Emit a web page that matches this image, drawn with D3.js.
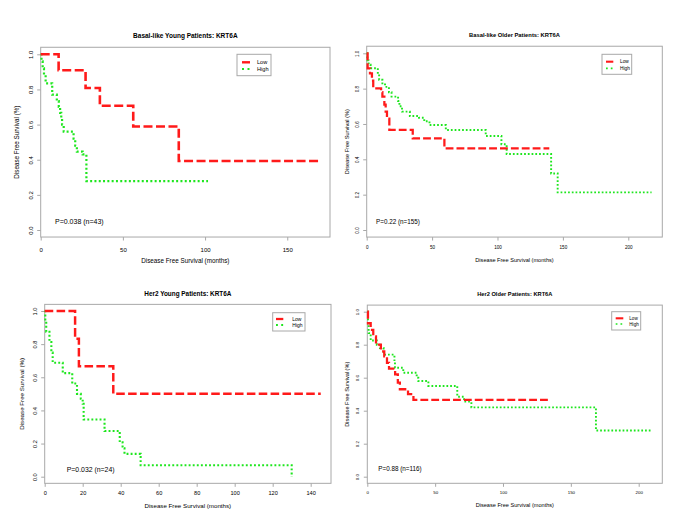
<!DOCTYPE html>
<html><head><meta charset="utf-8">
<script src="https://cdn.jsdelivr.net/npm/d3@7"></script>
<style>body{margin:0;background:#fff}svg{display:block}text{font-family:"Liberation Sans",Arial,sans-serif;fill:#000}</style>
</head><body>
<svg id="c" width="700" height="525"></svg>
<script>
// ---- data ----
const titles = ["Basal-like Young Patients: KRT6A","Basal-like Older Patients: KRT6A","Her2 Young Patients: KRT6A","Her2 Older Patients: KRT6A"];
const pTexts = ["P=0.038 (n=43)","P=0.22 (n=155)","P=0.032 (n=24)","P=0.88 (n=116)"];
const seriesNames = ["Low","High"];
const xTicks1 = [0,50,100,150];
const xTicks2 = [0,50,100,150,200];
const xTicks3 = [0,20,40,60,80,100,120,140];
const xTicks4 = [0,50,100,150,200];
const yTicks = [0,0.2,0.4,0.6,0.8,1.0];
const xLabel = "Disease Free Survival (months)";
const yLabel = "Disease Free Survival (%)";

const p1LowT  = [0,10.9,27.3,36,56.3,84,170];
const p1LowS  = [1,0.909,0.808,0.707,0.589,0.393,0.393];
const p1HighT = [0,0.5,1.2,2.0,3.0,7.0,9.8,11,11.8,12.5,13,14,20,21,22,25.5,27.8,101.8];
const p1HighS = [1,0.96,0.92,0.875,0.835,0.77,0.733,0.70,0.667,0.633,0.60,0.56,0.52,0.48,0.446,0.43,0.278,0.278];

const p2LowT  = [0,0.7,2.5,4,5,11,12,13.5,14.5,15.5,17.3,35.2,59.4,139.6];
const p2LowS  = [1,0.915,0.887,0.845,0.802,0.78,0.755,0.71,0.67,0.63,0.566,0.519,0.462,0.462];
const p2HighT = [0,0.5,1.5,3,8.5,9.5,12,14,17,19,24,25,27,33,40,44,48,60.5,91,103,107,141,146,217.8];
const p2HighS = [1,0.96,0.935,0.915,0.88,0.85,0.83,0.81,0.78,0.755,0.73,0.70,0.67,0.645,0.635,0.615,0.594,0.566,0.532,0.485,0.43,0.32,0.213,0.213];

const p3LowT  = [0,16,18,36.1,145.3];
const p3LowS  = [1,0.833,0.667,0.5,0.5];
const p3HighT = [0,0.3,0.8,2.5,3.5,4.2,9.5,14.5,17,19,20,20.5,31.5,39.5,41,42,50.5,130];
const p3HighS = [1,0.9375,0.875,0.8125,0.75,0.6875,0.625,0.5625,0.5,0.47,0.44,0.345,0.276,0.207,0.172,0.138,0.069,0];

const p4LowT  = [0,0.5,2.5,4.4,6.4,10,12.5,14.5,16,20.5,22.5,24,30,34,134.6];
const p4LowS  = [1,0.93,0.89,0.85,0.80,0.76,0.73,0.69,0.655,0.62,0.57,0.53,0.50,0.465,0.465];
const p4HighT = [0,0.5,1,2.5,7,9.3,12,13,20,20.4,26.5,36.4,37.6,45,66.3,71.3,76.7,168.5,209.6];
const p4HighS = [1,0.93,0.87,0.825,0.80,0.78,0.755,0.74,0.70,0.66,0.63,0.60,0.58,0.55,0.485,0.455,0.42,0.28,0.28];

// ---- layout (positions / styles) ----
const layout = [
  {left:40.7,right:330,xmax:176,y1:54.3,y0:230,titleY:37.5,titleFs:6.5,lblFs:6.3,tickFs:6,tickX:33,xtY:252,xlY:262.5,ylX:18.7,pX:55,pY:224.2,pFs:7,
   leg:{x0:237,x1:271,y0:54.3,y1:75.7,lowY:62.3,highY:69,l0:242,l1:250,tx:257,fs:5.6},s:1,xTicks:xTicks1,low:[p1LowT,p1LowS],high:[p1HighT,p1HighS]},
  {left:366.7,right:662.3,xmax:226,y1:53.3,y0:230,titleY:37,titleFs:5.8,lblFs:5.6,tickFs:4.6,tickX:358.8,xtY:249.5,xlY:262,ylX:348.5,pX:376,pY:224,pFs:6.3,
   leg:{x0:602,x1:631.7,y0:54.3,y1:74.3,lowY:61.7,highY:68.3,l0:606,l1:613.3,tx:620,fs:4.8},s:0.87,xTicks:xTicks2,low:[p2LowT,p2LowS],high:[p2HighT,p2HighS]},
  {left:44.7,right:331,xmax:150.7,y1:311,y0:476.7,titleY:295.8,titleFs:6.4,lblFs:6.2,tickFs:5.6,tickX:37,xtY:495,xlY:508,ylX:23.5,pX:66.7,pY:471.5,pFs:6.9,
   leg:{x0:272.7,x1:305,y0:312.7,y1:331,lowY:319,highY:325,l0:276,l1:283.3,tx:292.3,fs:5},s:0.95,xTicks:xTicks3,low:[p3LowT,p3LowS],high:[p3HighT,p3HighS]},
  {left:367.3,right:662.3,xmax:217.4,y1:311.7,y0:476.7,titleY:295.5,titleFs:5.7,lblFs:5.6,tickFs:4.4,tickX:358.8,xtY:494.5,xlY:507.3,ylX:348.5,pX:378.3,pY:471.3,pFs:6.3,
   leg:{x0:611.7,x1:640.7,y0:311.7,y1:330,lowY:318.3,highY:324,l0:615.7,l1:623.3,tx:629.3,fs:4.6},s:0.87,xTicks:xTicks4,low:[p4LowT,p4LowS],high:[p4HighT,p4HighS]}
];
const RED = "#ff1a1a", GREEN = "#1ee61e", BOX = "#a8a8a8";

const svg = d3.select("#c");
layout.forEach((L,i) => {
  const g = svg.append("g");
  const ppu = L.y0 - L.y1;
  const top = L.y1 - 0.04*ppu, bottom = L.y0 + 0.04*ppu;
  const x = d3.scaleLinear().domain([0, L.xmax]).range([L.left, L.right]);
  const y = d3.scaleLinear().domain([0, 1]).range([L.y0, L.y1]);

  // box
  g.append("rect").attr("x", L.left).attr("y", top).attr("width", L.right-L.left).attr("height", bottom-top)
    .attr("fill","none").attr("stroke",BOX).attr("stroke-width",1);

  // x axis ticks
  const xa = g.append("g").attr("transform",`translate(0,${bottom})`)
    .call(d3.axisBottom(x).tickValues(L.xTicks).tickSize(3.5).tickFormat(d3.format("d")));
  xa.select(".domain").remove();
  xa.selectAll("line").attr("stroke",BOX);
  xa.selectAll("text").attr("y",null).attr("dy",null).attr("transform",null)
    .attr("y", L.xtY - bottom).style("font-size",L.tickFs+"px").style("font-family","Liberation Sans, Arial").attr("fill","#000");

  // y axis ticks
  const ya = g.append("g").attr("transform",`translate(${L.left},0)`)
    .call(d3.axisLeft(y).tickValues(yTicks).tickSize(3.5).tickFormat(d3.format(".1f")));
  ya.select(".domain").remove();
  ya.selectAll("line").attr("stroke",BOX);
  ya.selectAll("text").attr("x",null).attr("dy",null)
    .attr("text-anchor","middle")
    .attr("transform",`translate(${L.tickX - L.left},0) rotate(-90)`)
    .style("font-size",L.tickFs+"px").style("font-family","Liberation Sans, Arial").attr("fill","#000");

  // titles & labels
  g.append("text").attr("x",(L.left+L.right)/2).attr("y",L.titleY).attr("text-anchor","middle")
    .style("font-size",L.titleFs+"px").style("font-weight","bold").text(titles[i]);
  g.append("text").attr("x",(L.left+L.right)/2).attr("y",L.xlY).attr("text-anchor","middle")
    .style("font-size",L.lblFs+"px").text(xLabel);
  g.append("text").attr("transform",`translate(${L.ylX},${(top+bottom)/2}) rotate(-90)`).attr("text-anchor","middle")
    .style("font-size",L.lblFs+"px").text(yLabel);
  g.append("text").attr("x",L.pX).attr("y",L.pY).style("font-size",L.pFs+"px").text(pTexts[i]);

  // curves
  const line = d3.line().x(d=>x(d[0])).y(d=>y(d[1])).curve(d3.curveStepAfter);
  const hi = L.high[0].map((t,k)=>[t,L.high[1][k]]);
  const lo = L.low[0].map((t,k)=>[t,L.low[1][k]]);
  g.append("path").datum(hi).attr("d",line).attr("fill","none").attr("stroke",GREEN)
    .attr("stroke-width",2.2*L.s).attr("stroke-dasharray",`${2*L.s},${2.3*L.s}`);
  g.append("path").datum(lo).attr("d",line).attr("fill","none").attr("stroke",RED)
    .attr("stroke-width",2.6*L.s).attr("stroke-dasharray",`${9*L.s},${3.5*L.s}`);

  // legend
  const lg = L.leg;
  g.append("rect").attr("x",lg.x0).attr("y",lg.y0).attr("width",lg.x1-lg.x0).attr("height",lg.y1-lg.y0)
    .attr("fill","#fff").attr("stroke",BOX).attr("stroke-width",1);
  g.append("line").attr("x1",lg.l0).attr("x2",lg.l1).attr("y1",lg.lowY).attr("y2",lg.lowY)
    .attr("stroke",RED).attr("stroke-width",2.4*L.s).attr("stroke-dasharray",`${lg.l1-lg.l0},100`);
  g.append("line").attr("x1",lg.l0).attr("x2",lg.l1).attr("y1",lg.highY).attr("y2",lg.highY)
    .attr("stroke",GREEN).attr("stroke-width",2*L.s).attr("stroke-dasharray",`${2*L.s},${3.5*L.s}`);
  g.append("text").attr("x",lg.tx).attr("y",lg.lowY+lg.fs*0.35).style("font-size",lg.fs+"px").text(seriesNames[0]);
  g.append("text").attr("x",lg.tx).attr("y",lg.highY+lg.fs*0.35).style("font-size",lg.fs+"px").text(seriesNames[1]);
});
</script>
</body></html>
